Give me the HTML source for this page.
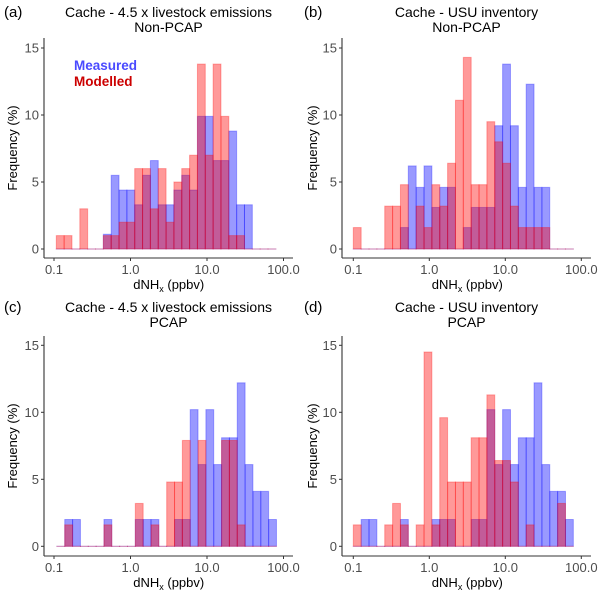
<!DOCTYPE html>
<html><head><meta charset="utf-8">
<style>
body{margin:0;background:#fff;}
svg{display:block;font-family:"Liberation Sans",Arial,sans-serif;}
.tick{font-size:13px;fill:#4d4d4d;}
.ttl{font-size:14px;fill:#000;}
.axt{font-size:13px;fill:#000;}
</style></head>
<body>
<svg id="chart" width="600" height="593" viewBox="0 0 600 593"></svg>
<script>
// Panel (a)
const measuredA=[0,0,0,0,0,0,1.1,5.5,4.4,4.4,3.3,5.5,6.6,3.3,3.3,4.4,5.5,4.4,9.9,9.9,6.6,6.6,8.8,3.3,3.3,0,0,0];
const modelledA=[1,1,0,3,0,0,1,1,2,2,6,6,3,6,2,5,6,7,13.8,7,13.8,9.9,1,1,0,0,0,0];
// Panel (b)
const measuredB=[0,0,0,0,0,0,1.6,6.2,4.6,6.2,3.1,4.6,4.6,0,1.6,3.1,3.1,3.1,9.2,13.8,9.2,4.6,12.3,4.6,4.6,0,0,0];
const modelledB=[1.6,0,0,0,3.2,3.2,4.8,0,3.2,1.6,4.8,3.2,6.4,11.1,14.3,4.8,4.8,9.5,8.0,6.4,3.2,1.6,1.6,1.6,1.6,0,0,0];
// Panel (c)
const measuredC=[0,2,2,0,0,0,2,0,0,0,2,2,2,0,0,2,2,10.2,6.1,10.2,6.1,8.1,8.1,12.2,6.1,4.1,4.1,2];
const modelledC=[0,1.6,0,0,0,0,1.6,0,0,0,3.2,0,1.6,0,4.8,4.8,7.9,0,7.9,0,0,7.9,7.9,1.6,0,0,0,0];
// Panel (d)
const measuredD=[0,2,2,0,0,0,2,0,0,0,2,2,2,0,0,2,2,10.2,6.1,10.2,6.1,8.1,8.1,12.2,6.1,4.1,4.1,2];
const modelledD=[1.6,0,0,0,1.6,3.2,1.6,0,1.6,14.5,1.6,9.6,4.8,4.8,4.8,8.1,8.1,11.3,6.4,6.4,4.8,0,1.6,0,0,0,3.2,0];
const xTicks=[0.1,1,10,100];
const xTickLabels=["0.1","1.0","10.0","100.0"];
const yTicks=[0,5,10,15];

const NS="http://www.w3.org/2000/svg";
const svg=document.getElementById('chart');
function mk(tag,attrs,parent){const e=document.createElementNS(NS,tag);for(const k in attrs)e.setAttribute(k,attrs[k]);(parent||svg).appendChild(e);return e;}

const panels=[
 {id:'a',label:'(a)',t1:'Cache - 4.5 x livestock emissions',t2:'Non-PCAP',meas:measuredA,mod:modelledA,ox:0,oy:0,x01:54,dec:76.5,e0:-0.970,bw:0.1025,y0:249,ypu:13.4,axL:44,axB:258,axR:293,axT:38,legend:true},
 {id:'b',label:'(b)',t1:'Cache - USU inventory',t2:'Non-PCAP',meas:measuredB,mod:modelledB,ox:300,oy:0,x01:353.3,dec:76,e0:-1.0,bw:0.1034,y0:249,ypu:13.4,axL:342,axB:258,axR:591,axT:38},
 {id:'c',label:'(c)',t1:'Cache - 4.5 x livestock emissions',t2:'PCAP',meas:measuredC,mod:modelledC,ox:0,oy:295,x01:54,dec:76.5,e0:-0.962,bw:0.1025,y0:546.3,ypu:13.4,axL:44,axB:556,axR:293,axT:336},
 {id:'d',label:'(d)',t1:'Cache - USU inventory',t2:'PCAP',meas:measuredD,mod:modelledD,ox:300,oy:295,x01:353.3,dec:76,e0:-1.0,bw:0.1034,y0:546.3,ypu:13.4,axL:342,axB:556,axR:591,axT:336}
];

panels.forEach(p=>{
  const g=mk('g',{});
  
  
  const xs=lv=>p.x01+p.dec*(lv+1);
  const ys=v=>p.y0-v*p.ypu;
  const titleX=(p.axL+p.axR)/2;
  let t=mk('text',{x:p.ox+4,y:p.oy+17,'font-size':15},g);t.textContent=p.label;
  
  
  t=mk('text',{x:titleX,y:p.oy+17,'text-anchor':'middle',class:'ttl'},g);t.textContent=p.t1;
  
  
  t=mk('text',{x:titleX,y:p.oy+32,'text-anchor':'middle',class:'ttl'},g);t.textContent=p.t2;
  
  
  [[p.meas,'#0000ff','measured-bar'],[p.mod,'#ff0000','modelled-bar']].forEach(([arr,col,nm])=>{
    arr.forEach((v,i)=>{
      const x1=xs(p.e0+i*p.bw),x2=xs(p.e0+(i+1)*p.bw);
      const r=mk('rect',{x:x1,y:ys(v),width:x2-x1,height:Math.max(ys(0)-ys(v),0.01),fill:col,'fill-opacity':0.4,stroke:col,'stroke-opacity':0.3,'stroke-width':1},g);
      
      
    });
  });
  let l=mk('line',{x1:p.axL,y1:p.axT,x2:p.axL,y2:p.axB,stroke:'#333','stroke-width':1.1},g);
  
  
  l=mk('line',{x1:p.axL,y1:p.axB,x2:p.axR,y2:p.axB,stroke:'#333','stroke-width':1.1},g);
  
  
  yTicks.forEach(v=>{
    mk('line',{x1:p.axL-3,x2:p.axL,y1:ys(v),y2:ys(v),stroke:'#333'},g);
    const tt=mk('text',{x:p.axL-5,y:ys(v)+4.5,'text-anchor':'end',class:'tick'},g);tt.textContent=v;
    
    
  });
  xTicks.forEach((v,i)=>{
    const x=xs(Math.log10(v));
    mk('line',{x1:x,x2:x,y1:p.axB,y2:p.axB+3,stroke:'#333'},g);
    const tt=mk('text',{x:x,y:p.axB+16,'text-anchor':'middle',class:'tick'},g);tt.textContent=xTickLabels[i];
    
    
  });
  const xt=mk('text',{x:xs(0.5),y:p.axB+31,'text-anchor':'middle',class:'axt'},g);
  xt.innerHTML='dNH<tspan font-size="9" dy="3">x</tspan><tspan dy="-3"> (ppbv)</tspan>';
  
  
  const yc=(p.axT+p.axB)/2;
  const yt=mk('text',{x:p.ox+17,y:yc,'text-anchor':'middle',class:'axt',transform:`rotate(-90 ${p.ox+17} ${yc})`},g);
  yt.textContent='Frequency (%)';
  
  
  if(p.legend){
    const m=mk('text',{x:74,y:70,'font-size':13.5,'font-weight':'bold',fill:'#4a4aff'},g);m.textContent='Measured';
    
    
    const d=mk('text',{x:74,y:86,'font-size':13.5,'font-weight':'bold',fill:'#cc0000'},g);d.textContent='Modelled';
    
    
  }
});
</script>
</body></html>
